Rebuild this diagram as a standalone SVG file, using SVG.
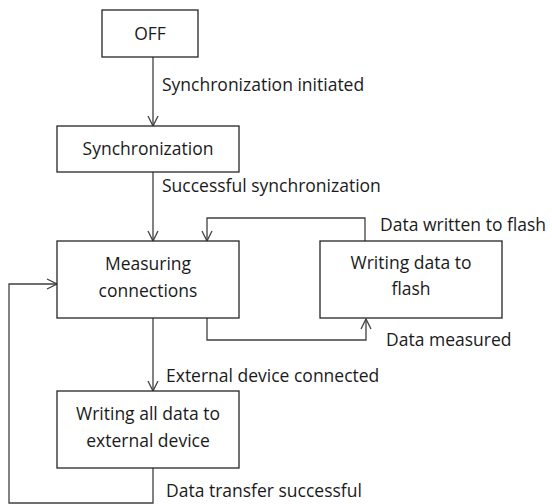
<svg xmlns="http://www.w3.org/2000/svg" width="552" height="504" viewBox="0 0 552 504">
<style>
.box{fill:#fff;stroke:#262626;stroke-width:1.3}
.ln{fill:none;stroke:#404040;stroke-width:1.3}
text{font-family:"Open Sans","Liberation Sans",sans-serif;font-size:17.5px;fill:#1a1a1a}
.c{text-anchor:middle}
</style>
<defs>
<marker id="a" viewBox="0 0 12 12" refX="11" refY="6" markerWidth="12" markerHeight="12" markerUnits="userSpaceOnUse" orient="auto">
<path d="M1,1 L11,6 L1,11" fill="none" stroke="#404040" stroke-width="1.3"/>
</marker>
</defs>
<rect width="552" height="504" fill="#fff"/>
<g id="connectors">
<path class="ln" d="M153,57 V126" marker-end="url(#a)"/>
<path class="ln" d="M153,172 V241" marker-end="url(#a)"/>
<path class="ln" d="M365,241 V218 H207 V241" marker-end="url(#a)"/>
<path class="ln" d="M207,318 V340 H366 V319" marker-end="url(#a)"/>
<path class="ln" d="M153,318 V391" marker-end="url(#a)"/>
<path class="ln" d="M153,468 V503 H9 V284 H57" marker-end="url(#a)"/>
<text x="162" y="91">Synchronization  initiated</text>
<text x="162" y="192">Successful  synchronization</text>
<text x="380" y="231">Data written  to flash</text>
<text x="386" y="346">Data measured</text>
<text x="166" y="382">External device  connected</text>
<text x="166" y="497">Data transfer  successful</text>
</g>
<g id="off"><rect class="box" x="102" y="10" width="96" height="47"/><text class="c" x="150" y="40">OFF</text></g>
<g id="sync"><rect class="box" x="57" y="126" width="182" height="46"/><text class="c" x="148" y="155">Synchronization</text></g>
<g id="measuring"><rect class="box" x="57" y="241" width="182" height="77"/><text class="c" x="148" y="270">Measuring</text><text class="c" x="148" y="297">connections</text></g>
<g id="flash"><rect class="box" x="320" y="241" width="182" height="77"/><text class="c" x="411" y="269">Writing  data to</text><text class="c" x="411" y="295">flash</text></g>
<g id="external"><rect class="box" x="57" y="391" width="182" height="77"/><text class="c" x="148" y="420">Writing  all data to</text><text class="c" x="148" y="447">external device</text></g>
</svg>
